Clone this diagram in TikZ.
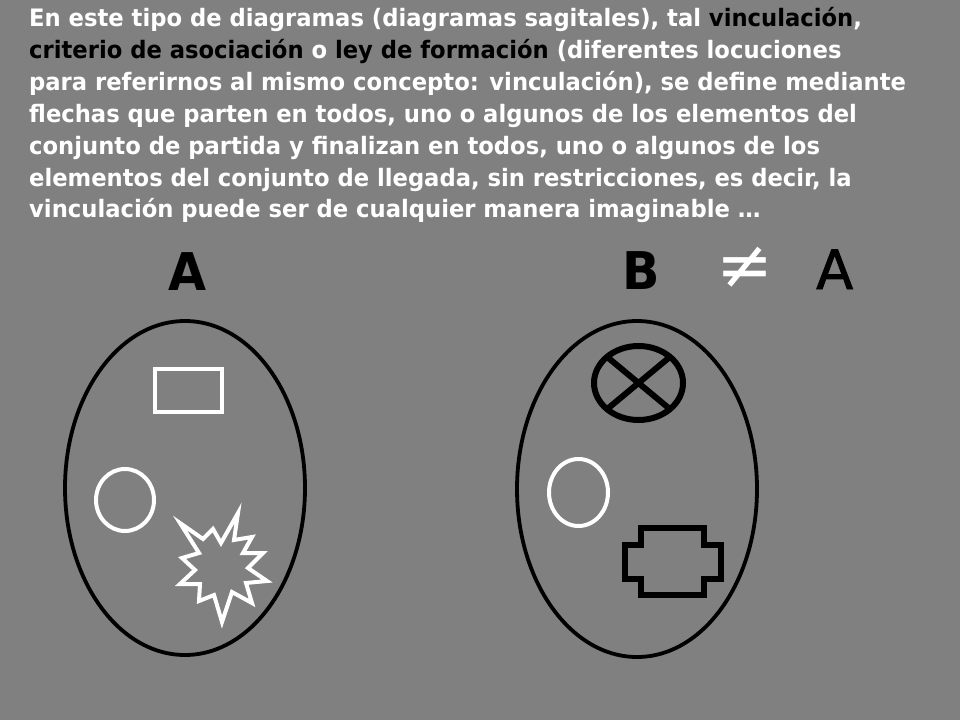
\documentclass[tikz,border=0pt]{standalone}
\usepackage{fontspec}
\setmainfont{DejaVu Sans}[FakeStretch=0.945]
\newfontfamily\symfont{DejaVu Sans}
\newfontfamily\medfont{DejaVu Sans}[FakeBold=1.6]
\definecolor{bg}{RGB}{128,128,128}
\begin{document}
\begin{tikzpicture}[x=1pt,y=-1pt,
  txt/.style={anchor=base west, inner sep=0pt, text=white, font=\bfseries\fontsize{24}{30}\selectfont},
  bigbold/.style={anchor=base west, inner sep=0pt, text=black, font=\bfseries\fontsize{52}{52}\selectfont},
  bigreg/.style={anchor=base west, inner sep=0pt, text=black, font=\medfont\fontsize{54}{54}\selectfont},
  setline/.style={draw=black, line width=3.8pt},
  wshape/.style={draw=white, line width=4pt, line join=miter},
  bshape/.style={draw=black, line width=6pt, line join=miter}]
\fill[bg] (0,0) rectangle (960,720);
\useasboundingbox (0,0) rectangle (960,720);
% text
\node[txt] (l1) at (29,26.5) {En este tipo de diagramas (diagramas sagitales), tal \textcolor{black}{vinculación},};
\node[txt] (l2) at (29,58.4) {\textcolor{black}{criterio de asociación} o \textcolor{black}{ley de formación} (diferentes locuciones};
\node[txt] (l3) at (29,90.3) {para referirnos al mismo concepto: vinculación), se define mediante};
\node[txt] (l4) at (29,122.2) {flechas que parten en todos, uno o algunos de los elementos del};
\node[txt] (l5) at (29,154.1) {conjunto de partida y finalizan en todos, uno o algunos de los};
\node[txt] (l6) at (29,186.0) {elementos del conjunto de llegada, sin restricciones, es decir, la};
\node[txt] (l7) at (29,217.9) {vinculación puede ser de cualquier manera imaginable …};
% labels
\node[bigbold] (lA) at (168,290) {A};
\node[bigbold] (lB) at (622,289) {B};
\node[inner sep=0pt, text=white, font=\symfont\fontsize{68}{68}\selectfont] (neq) at (745,268) {≠};
\node[bigreg] (rA) at (816,289) {A};
% sets
\draw[setline] (185,488) ellipse [x radius=120, y radius=167];
\draw[setline] (637,489) ellipse [x radius=120, y radius=168];
% left elements
\draw[wshape] (155,369) rectangle (222,412);
\draw[wshape] (125,500) ellipse [x radius=29, y radius=31];
\draw[wshape] (180,523) -- (203,539) -- (213,529) -- (221,543) -- (238,513) -- (234,540)
  -- (252,537) -- (243,553) -- (263,553) -- (248,568) -- (267,581) -- (246,583)
  -- (252,603) -- (232,592) -- (222,622) -- (214,595) -- (199,601) -- (200,584)
  -- (180,584) -- (195,570) -- (182,558) -- (199,553) -- cycle;
% right elements
\draw[bshape] (638.5,383) ellipse [x radius=44.5, y radius=37];
\draw[bshape, line cap=butt] (607,356.8) -- (670,409.2);
\draw[bshape, line cap=butt] (670,356.8) -- (607,409.2);
\draw[wshape] (578.5,492.5) ellipse [x radius=29.5, y radius=33.5];
\draw[bshape] (641,528) -- (704,528) -- (704,545) -- (721,545) -- (721,579) -- (704,579)
  -- (704,595) -- (641,595) -- (641,579) -- (625,579) -- (625,545) -- (641,545) -- cycle;
\end{tikzpicture}
\end{document}
